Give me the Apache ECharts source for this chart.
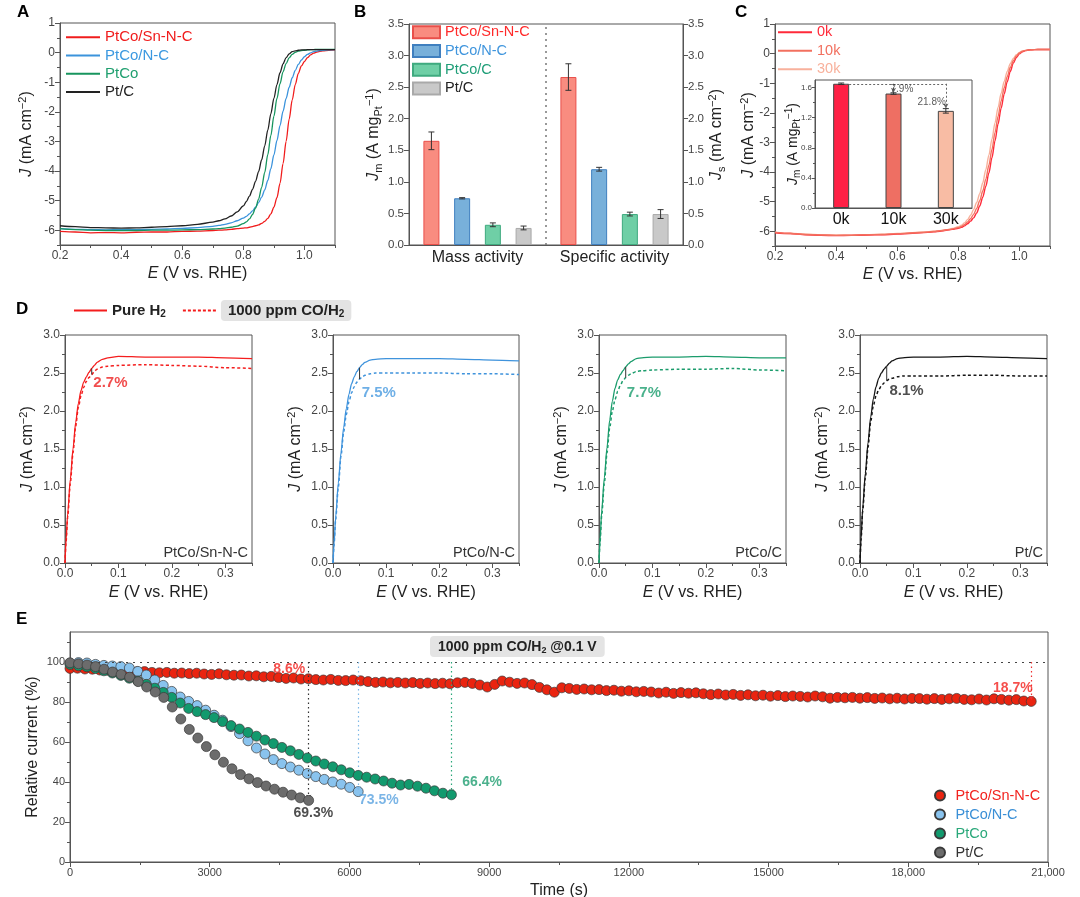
<!DOCTYPE html>
<html>
<head>
<meta charset="utf-8">
<title>PtCo/Sn-N-C figure</title>
<script src="https://cdn.jsdelivr.net/npm/echarts@6/dist/echarts.min.js"></script>
<style>
html,body{margin:0;padding:0;background:#fff;}
#chart{width:1080px;height:897px;}
</style>
</head>
<body>
<div id="chart"></div>
<script>
// ======================= DATA =======================
// Panel A / C : polarisation curves, E (V vs. RHE)
const LSV_E = [0.20,0.25,0.30,0.35,0.40,0.45,0.50,0.55,0.60,0.65,0.70,0.72,0.74,0.76,0.78,
  0.80,0.81,0.82,0.83,0.84,0.85,0.86,0.87,0.88,0.89,0.90,0.91,0.92,0.93,0.94,0.95,0.96,0.97,0.98,0.99,1.00,1.01,1.02,1.03,1.04,
  1.06,1.08,1.10];
const A_PTCO_SNNC = [-6.04,-6.06,-6.09,-6.08,-6.09,-6.07,-6.06,-6.06,-6.04,-6.03,-6.01,-6.00,-5.99,-5.97,-5.95,
  -5.93,-5.92,-5.90,-5.88,-5.85,-5.82,-5.77,-5.70,-5.60,-5.45,-5.22,-4.90,-4.42,-3.75,-3.00,-2.25,-1.60,-1.08,-0.70,-0.45,-0.30,-0.17,-0.08,-0.02,0.02,
  0.06,0.08,0.09];
const A_PTCO_NC = [-5.95,-5.97,-5.98,-5.99,-5.98,-5.98,-5.97,-5.96,-5.94,-5.91,-5.87,-5.84,-5.80,-5.75,-5.68,
  -5.59,-5.53,-5.45,-5.35,-5.22,-5.07,-4.88,-4.64,-4.32,-3.92,-3.46,-2.97,-2.47,-1.98,-1.55,-1.17,-0.85,-0.60,-0.40,-0.25,-0.14,-0.06,-0.01,0.03,0.05,
  0.08,0.09,0.10];
const A_PTCO = [-5.95,-5.98,-6.00,-6.01,-6.01,-6.01,-6.00,-6.00,-5.99,-5.98,-5.96,-5.95,-5.93,-5.90,-5.86,
  -5.78,-5.72,-5.62,-5.47,-5.25,-4.95,-4.55,-4.05,-3.45,-2.80,-2.15,-1.55,-1.05,-0.65,-0.37,-0.18,-0.06,0.01,0.05,0.07,0.08,0.09,0.10,0.10,0.11,
  0.11,0.11,0.11];
const A_PTC = [-5.85,-5.88,-5.91,-5.92,-5.93,-5.92,-5.90,-5.88,-5.85,-5.80,-5.73,-5.68,-5.62,-5.52,-5.38,
  -5.18,-5.03,-4.85,-4.62,-4.35,-4.02,-3.62,-3.15,-2.62,-2.07,-1.55,-1.08,-0.68,-0.38,-0.17,-0.04,0.03,0.06,0.08,0.09,0.09,0.10,0.10,0.10,0.10,
  0.10,0.10,0.10];

// Panel B : activities
const B_CATEGORIES = ['Mass activity', 'Specific activity'];
const B_NAMES = ['PtCo/Sn-N-C', 'PtCo/N-C', 'PtCo/C', 'Pt/C'];
const B_PTCO_SNNC = [1.65, 2.66];
const B_PTCO_NC = [0.74, 1.20];
const B_PTCO_C = [0.32, 0.49];
const B_PTC = [0.27, 0.49];
const B_ERR_PTCO_SNNC = [0.14, 0.21];
const B_ERR_PTCO_NC = [0.01, 0.03];
const B_ERR_PTCO_C = [0.03, 0.03];
const B_ERR_PTC = [0.03, 0.07];

// Panel C : durability (0k / 10k / 30k cycles)
const C_0K = [-6.05,-6.08,-6.12,-6.14,-6.15,-6.14,-6.13,-6.12,-6.10,-6.07,-6.04,-6.02,-6.00,-5.97,-5.94,
  -5.90,-5.87,-5.82,-5.75,-5.66,-5.55,-5.38,-5.15,-4.85,-4.48,-4.03,-3.52,-2.95,-2.38,-1.85,-1.37,-0.95,-0.60,-0.32,-0.13,-0.01,0.06,0.10,0.12,0.13,
  0.14,0.14,0.14];
const C_10K = [-6.04,-6.08,-6.11,-6.13,-6.14,-6.14,-6.12,-6.11,-6.09,-6.06,-6.03,-6.01,-5.99,-5.96,-5.93,
  -5.88,-5.84,-5.78,-5.69,-5.58,-5.43,-5.23,-4.97,-4.64,-4.24,-3.77,-3.24,-2.67,-2.12,-1.61,-1.16,-0.78,-0.47,-0.24,-0.08,0.02,0.08,0.11,0.12,0.13,
  0.14,0.14,0.14];
const C_30K = [-6.03,-6.07,-6.10,-6.12,-6.13,-6.13,-6.12,-6.10,-6.08,-6.05,-6.02,-6.00,-5.98,-5.95,-5.91,
  -5.85,-5.80,-5.72,-5.61,-5.46,-5.27,-5.03,-4.73,-4.36,-3.92,-3.43,-2.89,-2.34,-1.82,-1.35,-0.94,-0.60,-0.34,-0.16,-0.04,0.04,0.09,0.11,0.12,0.13,
  0.14,0.14,0.14];
const C_INSET_CATEGORIES = ['0k', '10k', '30k'];
const C_INSET_JM = [1.65, 1.52, 1.29];
const C_INSET_ERR = [0.01, 0.01, 0.03];
const C_INSET_LOSS = ['', '7.9%', '21.8%'];

// Panel D : HOR polarisation, pure H2 vs 1000 ppm CO/H2
const D_E = [0,0.002,0.005,0.01,0.015,0.02,0.025,0.03,0.035,0.04,0.045,0.05,0.055,0.06,0.07,0.08,0.10,0.15,0.20,0.25,0.30,0.35];
const D_PTCO_SNNC_H2 = [0,0.30,0.65,1.10,1.50,1.85,2.10,2.27,2.38,2.45,2.51,2.56,2.60,2.64,2.68,2.70,2.72,2.71,2.71,2.71,2.70,2.69];
const D_PTCO_SNNC_CO = [0,0.28,0.60,1.05,1.45,1.80,2.05,2.20,2.31,2.39,2.44,2.48,2.52,2.55,2.58,2.59,2.60,2.61,2.60,2.59,2.57,2.56];
const D_PTCO_NC_H2 = [0,0.25,0.60,1.05,1.45,1.78,2.03,2.22,2.36,2.45,2.52,2.57,2.61,2.64,2.67,2.68,2.69,2.69,2.69,2.68,2.67,2.66];
const D_PTCO_NC_CO = [0,0.24,0.57,1.00,1.40,1.72,1.95,2.12,2.24,2.32,2.38,2.42,2.45,2.47,2.49,2.50,2.50,2.50,2.50,2.49,2.49,2.48];
const D_PTCO_C_H2 = [0,0.30,0.68,1.12,1.52,1.88,2.13,2.30,2.41,2.48,2.53,2.58,2.62,2.65,2.69,2.70,2.71,2.71,2.72,2.71,2.70,2.70];
const D_PTCO_C_CO = [0,0.28,0.62,1.05,1.45,1.78,2.00,2.15,2.26,2.34,2.40,2.44,2.47,2.49,2.52,2.53,2.54,2.55,2.55,2.56,2.54,2.53];
const D_PTC_H2 = [0,0.32,0.72,1.18,1.58,1.92,2.16,2.32,2.43,2.50,2.55,2.59,2.63,2.66,2.69,2.70,2.71,2.71,2.72,2.71,2.70,2.69];
const D_PTC_CO = [0,0.30,0.68,1.12,1.52,1.86,2.07,2.20,2.28,2.33,2.37,2.40,2.42,2.43,2.45,2.46,2.46,2.46,2.47,2.47,2.46,2.46];
const D_SAMPLES = ['PtCo/Sn-N-C', 'PtCo/N-C', 'PtCo/C', 'Pt/C'];
const D_LOSS = ['2.7%', '7.5%', '7.7%', '8.1%'];
const D_COMPARE_E = 0.05;

// Panel E : chronoamperometry in 1000 ppm CO/H2 at 0.1 V (relative current, %)
const E_NAMES = ['PtCo/Sn-N-C', 'PtCo/N-C', 'PtCo', 'Pt/C'];
const E_STEP_PTCO_SNNC = 160;
const E_PTCO_SNNC = [
  96.8,96.9,96.5,96.4,96.0,95.9,95.6,95.7,95.3,95.1,
  95.2,94.8,94.6,94.8,94.4,94.5,94.2,94.4,94.0,93.8,
  94.1,93.6,93.4,93.5,93.0,93.1,92.6,92.8,92.2,91.8,
  92.0,91.5,91.6,91.2,91.0,91.3,90.8,90.7,91.0,90.6,
  90.2,89.8,90.0,89.6,89.8,89.5,89.7,89.3,89.5,89.2,
  89.4,89.1,89.6,89.8,89.3,88.5,87.5,88.8,90.5,89.9,
  89.3,89.5,88.7,87.3,86.1,84.9,87.1,86.8,86.3,86.5,
  86.1,86.2,85.7,85.9,85.4,85.6,85.1,85.3,85.0,84.5,
  84.9,84.3,84.7,84.4,84.6,84.1,83.7,84.0,83.5,83.8,
  83.3,83.6,83.1,83.4,82.9,83.2,82.7,83.0,82.8,82.5,
  83.0,82.6,81.9,82.3,82.1,82.3,81.9,82.2,81.8,82.0,
  81.6,81.9,81.5,81.8,81.7,81.4,81.7,81.3,81.6,81.8,
  81.3,81.1,81.5,81.0,81.6,81.3,80.9,81.2,80.5,80.3];
const E_STEP_PTCO_NC = 182;
const E_PTCO_NC = [99.3,99.7,99.5,98.8,98.3,98.0,97.7,97.0,95.3,93.5,91.0,88.3,85.3,82.5,80.3,78.2,75.9,73.4,70.9,67.7,
  64.2,60.6,57.0,54.0,51.2,49.2,47.5,45.9,44.2,42.7,41.3,40.0,38.9,37.3,35.2];
const E_STEP_PTCO = 182;
const E_PTCO = [98.8,98.1,97.6,96.8,95.6,94.5,93.3,91.9,90.5,88.8,86.9,84.8,82.3,79.5,76.8,75.2,73.7,72.2,70.2,68.2,
  66.5,64.8,62.9,61.0,59.2,57.3,55.6,53.8,52.0,50.5,49.0,47.6,46.1,44.6,43.3,42.4,41.5,40.5,39.4,38.5,
  38.8,37.9,36.9,35.6,34.4,33.6];
const E_STEP_PTC = 183;
const E_PTC = [99.6,99.1,98.5,97.7,96.4,95.0,93.8,92.4,90.2,87.5,85.0,82.3,77.5,71.5,66.3,62.0,57.7,53.6,49.9,46.6,
  43.7,41.6,39.7,38.0,36.4,34.9,33.5,32.1,30.8];
const E_REFERENCE = 100;
const E_LOSS_TEXT = ['18.7%', '73.5%', '66.4%', '69.3%'];
const E_LOSS_MID_TEXT = '8.6%';

// Tick values / labels
const A_X_TICKS = [0.2,0.4,0.6,0.8,1.0];
const A_X_MINOR = [0.3,0.5,0.7,0.9,1.1];
const A_Y_TICKS = [-6,-5,-4,-3,-2,-1,0,1];
const A_Y_MINOR = [-6.5,-5.5,-4.5,-3.5,-2.5,-1.5,-0.5,0.5];
const B_Y_TICKS = [0,0.5,1.0,1.5,2.0,2.5,3.0,3.5];
const CI_Y_TICKS = [0,0.4,0.8,1.2,1.6];
const CI_Y_MINOR = [0.2,0.6,1.0,1.4];
const D_X_TICKS = [0,0.1,0.2,0.3];
const D_X_MINOR = [0.05,0.15,0.25,0.35];
const D_Y_TICKS = [0,0.5,1.0,1.5,2.0,2.5,3.0];
const D_Y_MINOR = [0.25,0.75,1.25,1.75,2.25,2.75];
const E_X_TICKS = [0,3000,6000,9000,12000,15000,18000,21000];
const E_X_LABELS = ['0','3000','6000','9000','12000','15000','18,000','21,000'];
const E_X_MINOR = [1500,4500,7500,10500,13500,16500,19500];
const E_Y_TICKS = [0,20,40,60,80,100];
const E_Y_MINOR = [10,30,50,70,90,110];

// ======================= LAYOUT / STYLE =======================
const FONT = '"Liberation Sans", Arial, Helvetica, sans-serif';
const AXC = '#555', LBC = '#444', TXC = '#222';
const GRIDS = {
  A:  {left:60,  top:23,  width:275, height:222},
  B:  {left:409, top:24,  width:274, height:221},
  C:  {left:775, top:24,  width:275, height:222},
  CI: {left:815, top:80,  width:157, height:128},
  D1: {left:65,  top:335, width:187, height:228},
  D2: {left:333, top:335, width:186, height:228},
  D3: {left:599, top:335, width:187, height:228},
  D4: {left:860, top:335, width:187, height:228},
  E:  {left:70,  top:632, width:978, height:230}
};
const COL_A = ['#f01c1c', '#3b93dc', '#17955e', '#222222'];
const COL_A_TXT = ['#f01c1c', '#3b98e0', '#1f9f6f', '#222222'];
const COL_B_FILL = ['#f98c80', '#78b0da', '#6fcfa6', '#c9c9c9'];
const COL_B_EDGE = ['#e94f4a', '#3f7fbf', '#3faa7f', '#a9a9a9'];
const COL_B_TXT = ['#ff2a2a', '#3f95dd', '#1f9e78', '#222222'];
const COL_C = ['#ff2a3a', '#f2705f', '#f8b19c'];
const COL_CI = ['#ff2045', '#ee6f63', '#f8bca4'];
const COL_D = ['#f41d1d', '#3f93dc', '#1b9c6c', '#151515'];
const COL_D_TXT = ['#ee2020', '#4a9be0', '#1b9e6e', '#222222'];
const COL_E = ['#ea2410', '#89c3ee', '#129a6e', '#6c6c6c'];
const COL_E_TXT = ['#f2231f', '#3a8fd6', '#2aa87a', '#333333'];
const DASH_ICON = 'path://M0,0h3v2h-3zM5,0h3v2h-3zM10,0h3v2h-3zM15,0h3v2h-3zM20,0h3v2h-3zM25,0h3v2h-3zM30,0h3v2h-3z';

const grid = [], xAxis = [], yAxis = [], series = [], legend = [], graphic = [];

function addGrid(k) {
  const g = GRIDS[k];
  grid.push({left:g.left, top:g.top, width:g.width, height:g.height, show:true,
    borderColor:AXC, borderWidth:1, backgroundColor:'#fff', containLabel:false, outerBoundsMode:'none'});
  return grid.length - 1;
}
function nameStyle(fs) {
  const s = Math.round(fs * 0.68);
  return {fontSize:fs, lineHeight:fs + 4, color:TXC, fontFamily:FONT,
    rich:{
      i:{fontStyle:'italic', fontSize:fs, lineHeight:fs + 4, color:TXC, fontFamily:FONT},
      sub:{fontSize:s, lineHeight:s, verticalAlign:'bottom', color:TXC, fontFamily:FONT},
      sup:{fontSize:s, lineHeight:s, verticalAlign:'top', color:TXC, fontFamily:FONT}
    }};
}
function vAxis(list, gi, pos, o) {
  list.push({type:'value', gridIndex:gi, position:pos, min:o.min, max:o.max,
    axisLine:{show:true, onZero:false, lineStyle:{color:AXC, width:1}},
    axisTick:{show:true, inside:false, customValues:o.ticks, length:o.tickLen || 5, lineStyle:{color:AXC, width:1}},
    axisLabel:{show:true, customValues:o.ticks, formatter:o.fmt, fontSize:o.fs || 12, color:LBC,
      fontFamily:FONT, margin:(o.margin != null ? o.margin : 5)},
    splitLine:{show:false}, minorTick:{show:false},
    name:o.name || '', nameLocation:'middle', nameGap:o.nameGap || 20, nameRotate:o.nameRotate,
    nameMoveOverlap:false,
    nameTextStyle:nameStyle(o.nfs || 16)});
  const idx = list.length - 1;
  if (o.minor) {
    list.push({type:'value', gridIndex:gi, position:pos, min:o.min, max:o.max,
      axisLine:{show:false, onZero:false},
      axisTick:{show:true, customValues:o.minor, length:o.minorLen || 3, lineStyle:{color:AXC, width:1}},
      axisLabel:{show:false}, splitLine:{show:false}});
  }
  return idx;
}
const fmt1 = v => Number(v).toFixed(1);
const fmtInt = v => String(v);

function errorSeries(xi, yi, vals, errs, offset, color) {
  return {type:'custom', xAxisIndex:xi, yAxisIndex:yi, z:6, silent:true,
    data: vals.map((v, i) => [i, v, errs[i]]),
    renderItem: (p, api) => {
      const i = api.value(0), v = api.value(1), e = api.value(2);
      const top = api.coord([i, v + e]), bot = api.coord([i, v - e]);
      const x = top[0] + offset, hw = 3;
      const st = {stroke:color, lineWidth:1};
      return {type:'group', children:[
        {type:'line', shape:{x1:x, y1:top[1], x2:x, y2:bot[1]}, style:st},
        {type:'line', shape:{x1:x - hw, y1:top[1], x2:x + hw, y2:top[1]}, style:st},
        {type:'line', shape:{x1:x - hw, y1:bot[1], x2:x + hw, y2:bot[1]}, style:st}
      ]};
    }};
}
function letter(t, x, y) {
  graphic.push({type:'text', left:x, top:y, z:20, style:{text:t, font:'bold 17px ' + FONT, fill:'#000'}});
}

// ======================= PANEL A =======================
const gA = addGrid('A');
const xA = vAxis(xAxis, gA, 'bottom', {min:0.2, max:1.1, ticks:A_X_TICKS, minor:A_X_MINOR, fmt:fmt1,
  name:'{i|E} (V vs. RHE)', nameGap:19});
const yA = vAxis(yAxis, gA, 'left', {min:-6.5, max:1, ticks:A_Y_TICKS, minor:A_Y_MINOR, fmt:fmtInt,
  name:'{i|J} (mA cm{sup|\u22122})', nameGap:23, nameRotate:90});
const A_SETS = [A_PTCO_SNNC, A_PTCO_NC, A_PTCO, A_PTC];
const A_NAMES = ['PtCo/Sn-N-C', 'PtCo/N-C', 'PtCo', 'Pt/C'];
A_SETS.forEach((arr, k) => {
  series.push({type:'line', name:A_NAMES[k], xAxisIndex:xA, yAxisIndex:yA,
    data:LSV_E.map((e, i) => [e, arr[i]]), symbol:'none', smooth:0.3, smoothMonotone:'x',
    lineStyle:{color:COL_A[k], width:1.3}, itemStyle:{color:COL_A[k]}, z:3, silent:true});
});
legend.push({left:66, top:28, padding:0, orient:'vertical', icon:'rect', itemWidth:34, itemHeight:2, itemGap:0, selectedMode:false,
  textStyle:{fontSize:15, lineHeight:18.3, fontFamily:FONT},
  data:A_NAMES.map((n, k) => ({name:n, textStyle:{color:COL_A_TXT[k]}}))});
letter('A', 17, 4);

// ======================= PANEL B =======================
const gB = addGrid('B');
xAxis.push({type:'category', gridIndex:gB, position:'bottom', data:B_CATEGORIES,
  axisLine:{show:true, onZero:false, lineStyle:{color:AXC}}, axisTick:{show:false},
  axisLabel:{fontSize:16, color:TXC, fontFamily:FONT, margin:5, interval:0, hideOverlap:false}, splitLine:{show:false}});
const xB = xAxis.length - 1;
xAxis.push({type:'value', gridIndex:gB, position:'top', min:0, max:2, show:false});
const xBsep = xAxis.length - 1;
const yB = vAxis(yAxis, gB, 'left', {min:0, max:3.5, ticks:B_Y_TICKS, fmt:fmt1, fs:11.5,
  name:'{i|J}{sub|m} (A mg{sub|Pt}{sup|\u22121})', nameGap:25, nameRotate:90});
const yB2 = vAxis(yAxis, gB, 'right', {min:0, max:3.5, ticks:B_Y_TICKS, fmt:fmt1, fs:11.5,
  name:'{i|J}{sub|s} (mA cm{sup|\u22122})', nameGap:24, nameRotate:90});
const B_SETS = [B_PTCO_SNNC, B_PTCO_NC, B_PTCO_C, B_PTC];
const B_ERRS = [B_ERR_PTCO_SNNC, B_ERR_PTCO_NC, B_ERR_PTCO_C, B_ERR_PTC];
const B_BAR_W = 16, B_GAP = 0.92, B_STEP = B_BAR_W * (1 + B_GAP);
B_SETS.forEach((arr, k) => {
  series.push({type:'bar', name:B_NAMES[k] + ' ', xAxisIndex:xB, yAxisIndex:yB, data:arr,
    barWidth:B_BAR_W, barGap:(B_GAP * 100) + '%', silent:true,
    itemStyle:{color:COL_B_FILL[k], borderColor:COL_B_EDGE[k], borderWidth:1}});
});
B_SETS.forEach((arr, k) => {
  series.push(errorSeries(xB, yB, arr, B_ERRS[k], (k - 1.5) * B_STEP, '#333'));
});
series.push({type:'line', xAxisIndex:xBsep, yAxisIndex:yB, data:[[1, 0], [1, 3.5]], symbol:'none', silent:true,
  lineStyle:{type:[2, 4], color:'#777', width:1.5}, z:1});
legend.push({left:412, top:23, padding:0, orient:'vertical', icon:'rect', itemWidth:27, itemHeight:12, itemGap:0, selectedMode:false,
  textStyle:{fontSize:14.5, lineHeight:18.7, fontFamily:FONT}, formatter:n => n.trim(),
  data:B_NAMES.map((n, k) => ({name:n + ' ', textStyle:{color:COL_B_TXT[k]}}))});
letter('B', 354, 4);

// ======================= PANEL C =======================
const gC = addGrid('C');
const xC = vAxis(xAxis, gC, 'bottom', {min:0.2, max:1.1, ticks:A_X_TICKS, minor:A_X_MINOR, fmt:fmt1,
  name:'{i|E} (V vs. RHE)', nameGap:19});
const yC = vAxis(yAxis, gC, 'left', {min:-6.5, max:1, ticks:A_Y_TICKS, minor:A_Y_MINOR, fmt:fmtInt,
  name:'{i|J} (mA cm{sup|\u22122})', nameGap:16, nameRotate:90});
const C_SETS = [C_0K, C_10K, C_30K];
const C_NAMES = ['0k', '10k', '30k'];
[2, 0, 1].forEach(k => {
  series.push({type:'line', name:C_NAMES[k], xAxisIndex:xC, yAxisIndex:yC,
    data:LSV_E.map((e, i) => [e, C_SETS[k][i]]), symbol:'none', smooth:0.3, smoothMonotone:'x', silent:true,
    lineStyle:{color:COL_C[k], width:1.4}, itemStyle:{color:COL_C[k]}, z:3});
});
legend.push({left:778, top:23, padding:0, orient:'vertical', icon:'rect', itemWidth:34, itemHeight:2, itemGap:0, selectedMode:false,
  textStyle:{fontSize:14.5, lineHeight:18.5, fontFamily:FONT},
  data:C_NAMES.map((n, k) => ({name:n, textStyle:{color:COL_C[k]}}))});
letter('C', 735, 4);

// inset
const gCI = addGrid('CI');
xAxis.push({type:'category', gridIndex:gCI, position:'bottom', data:C_INSET_CATEGORIES,
  axisLine:{show:true, onZero:false, lineStyle:{color:AXC}}, axisTick:{show:false},
  axisLabel:{fontSize:16, color:'#111', fontFamily:FONT, margin:4, interval:0}, splitLine:{show:false}});
const xCI = xAxis.length - 1;
const yCI = vAxis(yAxis, gCI, 'left', {min:0, max:1.7, ticks:CI_Y_TICKS, minor:CI_Y_MINOR, fmt:fmt1, fs:8,
  margin:3, tickLen:3, minorLen:2, name:'{i|J}{sub|m} (A mg{sub|Pt}{sup|\u22121})', nameGap:13, nameRotate:90, nfs:14});
series.push({type:'bar', name:'inset', xAxisIndex:xCI, yAxisIndex:yCI, barWidth:16, silent:true, z:4,
  data:C_INSET_JM.map((v, i) => ({value:v, itemStyle:{color:COL_CI[i]}})),
  itemStyle:{borderColor:'#444', borderWidth:1},
  markLine:{silent:true, symbol:'none', label:{show:false}, animation:false,
    lineStyle:{type:[2, 2], color:'#666', width:1},
    data:[
      [{coord:[C_INSET_CATEGORIES[0], C_INSET_JM[0]]}, {coord:[C_INSET_CATEGORIES[2], C_INSET_JM[0]]}],
      [{coord:[C_INSET_CATEGORIES[1], C_INSET_JM[0]]},
       {coord:[C_INSET_CATEGORIES[1], C_INSET_JM[1] + C_INSET_ERR[1]], symbol:'arrow', symbolSize:[4, 5]}],
      [{coord:[C_INSET_CATEGORIES[2], C_INSET_JM[0]]},
       {coord:[C_INSET_CATEGORIES[2], C_INSET_JM[2] + C_INSET_ERR[2]], symbol:'arrow', symbolSize:[4, 5]}]
    ]}});
series.push(errorSeries(xCI, yCI, C_INSET_JM, C_INSET_ERR, 0, '#333'));
series.push({type:'scatter', xAxisIndex:xCI, yAxisIndex:yCI, symbolSize:0, silent:true, z:8,
  label:{show:true, fontSize:10, color:'#333', fontFamily:FONT},
  data:[
    {value:[C_INSET_CATEGORIES[1], 1.575], label:{position:'right', distance:-3, formatter:C_INSET_LOSS[1]}},
    {value:[C_INSET_CATEGORIES[2], 1.41], label:{position:'left', distance:0, formatter:C_INSET_LOSS[2]}}
  ]});

// ======================= PANEL D =======================
const D_SETS = [[D_PTCO_SNNC_H2, D_PTCO_SNNC_CO], [D_PTCO_NC_H2, D_PTCO_NC_CO], [D_PTCO_C_H2, D_PTCO_C_CO], [D_PTC_H2, D_PTC_CO]];
const D_TEXT_ANCHOR = [[0.053, 2.37], [0.054, 2.24], [0.052, 2.24], [0.055, 2.26]];
const iCmp = D_E.indexOf(D_COMPARE_E);
['D1', 'D2', 'D3', 'D4'].forEach((key, k) => {
  const g = addGrid(key);
  const xi = vAxis(xAxis, g, 'bottom', {min:0, max:0.35, ticks:D_X_TICKS, minor:D_X_MINOR, fmt:fmt1,
    name:'{i|E} (V vs. RHE)', nameGap:20});
  const yi = vAxis(yAxis, g, 'left', {min:0, max:3, ticks:D_Y_TICKS, minor:D_Y_MINOR, fmt:fmt1,
    name:'{i|J} (mA cm{sup|\u22122})', nameGap:27, nameRotate:90});
  const [h2, co] = D_SETS[k];
  series.push({type:'line', name:(k === 0 ? 'Pure H2' : key + ' H2'), xAxisIndex:xi, yAxisIndex:yi,
    data:D_E.map((e, i) => [e, h2[i]]), symbol:'none', smooth:0.25, smoothMonotone:'x', silent:true,
    lineStyle:{color:COL_D[k], width:1.3}, itemStyle:{color:COL_D[k]}, z:4});
  series.push({type:'line', name:(k === 0 ? '1000 ppm CO/H2' : key + ' CO'), xAxisIndex:xi, yAxisIndex:yi,
    data:D_E.map((e, i) => [e, co[i]]), symbol:'none', smooth:0.25, smoothMonotone:'x', silent:true,
    lineStyle:{color:COL_D[k], width:1.5, type:[3, 2.5]}, itemStyle:{color:COL_D[k]}, z:3});
  series.push({type:'line', xAxisIndex:xi, yAxisIndex:yi, symbol:'none', silent:true, z:5,
    data:[[D_COMPARE_E, h2[iCmp]], [D_COMPARE_E, co[iCmp]]], lineStyle:{color:'#333', width:1}});
  series.push({type:'scatter', xAxisIndex:xi, yAxisIndex:yi, symbolSize:0, silent:true, z:6,
    data:[D_TEXT_ANCHOR[k]],
    label:{show:true, position:'right', distance:0, formatter:D_LOSS[k], color:COL_D_TXT[k],
      fontWeight:'bold', fontSize:15, fontFamily:FONT}});
  const G = GRIDS[key];
  graphic.push({type:'text', right:1080 - (G.left + G.width) + 4, top:G.top + G.height - 18, z:10,
    style:{text:D_SAMPLES[k], font:'14.5px ' + FONT, fill:'#333'}});
});
legend.push({left:74, top:300, padding:0, orient:'horizontal', itemWidth:33, itemHeight:2, itemGap:17, selectedMode:false,
  textStyle:{fontSize:15, fontWeight:'bold', lineHeight:16, color:TXC, fontFamily:FONT,
    rich:{s:{fontSize:10, fontWeight:'bold', verticalAlign:'bottom', lineHeight:10, color:TXC, fontFamily:FONT}}},
  formatter:n => (n === 'Pure H2' ? 'Pure H{s|2}' : '1000 ppm CO/H{s|2}'),
  data:[{name:'Pure H2', icon:'rect', textStyle:{padding:[3, 0, 2, 0]}},
        {name:'1000 ppm CO/H2', icon:DASH_ICON, textStyle:{backgroundColor:'#e3e3e3', borderRadius:4, padding:[3, 7, 2, 7]}}]});
letter('D', 16, 301);

// ======================= PANEL E =======================
const gE = addGrid('E');
const xE = vAxis(xAxis, gE, 'bottom', {min:0, max:21000, ticks:E_X_TICKS, minor:E_X_MINOR, fs:11,
  fmt:v => E_X_LABELS[E_X_TICKS.indexOf(v)], name:'Time (s)', nameGap:19});
const yE = vAxis(yAxis, gE, 'left', {min:0, max:115, ticks:E_Y_TICKS, minor:E_Y_MINOR, fs:11, fmt:fmtInt,
  name:'Relative current (%)', nameGap:27, nameRotate:90});
const E_SETS = [[E_PTCO_SNNC, E_STEP_PTCO_SNNC], [E_PTCO_NC, E_STEP_PTCO_NC], [E_PTCO, E_STEP_PTCO], [E_PTC, E_STEP_PTC]];
const E_LINE_COL = ['#ee3030', '#7fb8e6', '#2aa87a', '#333333'];
E_SETS.forEach(([vals, step], k) => {
  const tLast = (vals.length - 1) * step, vLast = vals[vals.length - 1];
  const ml = [[{coord:[tLast, E_REFERENCE]}, {coord:[tLast, vLast + 0.8], symbol:'arrow', symbolSize:[4, 4]}]];
  if (k === 0) ml.push({yAxis:E_REFERENCE, lineStyle:{color:'#444', type:[2, 5], width:1}});
  series.push({type:'scatter', name:E_NAMES[k] + '  ', xAxisIndex:xE, yAxisIndex:yE, symbol:'circle', symbolSize:10,
    silent:true, z:3 + k,
    data:vals.map((v, i) => [i * step, v]),
    itemStyle:{color:COL_E[k], borderColor:'#3a3a3a', borderWidth:0.7, opacity:1},
    markLine:{silent:true, symbol:'none', label:{show:false}, animation:false,
      lineStyle:{type:[1.5, 3], color:E_LINE_COL[k], width:1.2}, data:ml}});
});
// loss annotations (positions in data coordinates)
const E_TEXT = [
  {text:E_LOSS_MID_TEXT, at:[4708, 96.6], pos:'inside', color:COL_E_TXT[0]},
  {text:E_LOSS_TEXT[3], at:[5226, 24.4], pos:'inside', color:'#222'},
  {text:E_LOSS_TEXT[1], at:[6630, 30.8], pos:'inside', color:'#5aa3e0'},
  {text:E_LOSS_TEXT[2], at:[8850, 39.9], pos:'inside', color:'#1f9e70'},
  {text:E_LOSS_TEXT[0], at:[(E_PTCO_SNNC.length - 1) * E_STEP_PTCO_SNNC + 30, 86.8], pos:'left', color:COL_E_TXT[0]}
];
series.push({type:'scatter', xAxisIndex:xE, yAxisIndex:yE, symbolSize:0, silent:true, z:10,
  data:E_TEXT.map(d => ({value:d.at, label:{show:true, position:d.pos, distance:0, formatter:d.text, color:d.color,
    fontWeight:'bold', fontSize:14, fontFamily:FONT}}))});
graphic.push({type:'text', left:430, top:636, z:12,
  style:{text:'1000 ppm CO/H{s|2} @0.1 V', font:'bold 14px ' + FONT, fill:'#222', lineHeight:16,
    backgroundColor:'#e4e4e4', borderRadius:4, padding:[3, 8, 2, 8],
    rich:{s:{fontSize:9, fontWeight:'bold', fontFamily:FONT, fill:'#222', verticalAlign:'bottom', lineHeight:9}}}});
legend.push({left:934, top:786, padding:0, orient:'vertical', icon:'circle', itemWidth:21, itemHeight:10, itemGap:0, selectedMode:false,
  textStyle:{fontSize:14.5, lineHeight:19, fontFamily:FONT}, formatter:n => n.trim(),
  data:E_NAMES.map((n, k) => ({name:n + '  ', textStyle:{color:COL_E_TXT[k]}}))});
letter('E', 16, 611);

// ======================= RENDER =======================
const chart = echarts.init(document.getElementById('chart'), null, {renderer:'canvas'});
chart.setOption({
  animation:false,
  backgroundColor:'#fff',
  textStyle:{fontFamily:FONT},
  grid, xAxis, yAxis, series, legend, graphic
});
</script>
</body>
</html>
